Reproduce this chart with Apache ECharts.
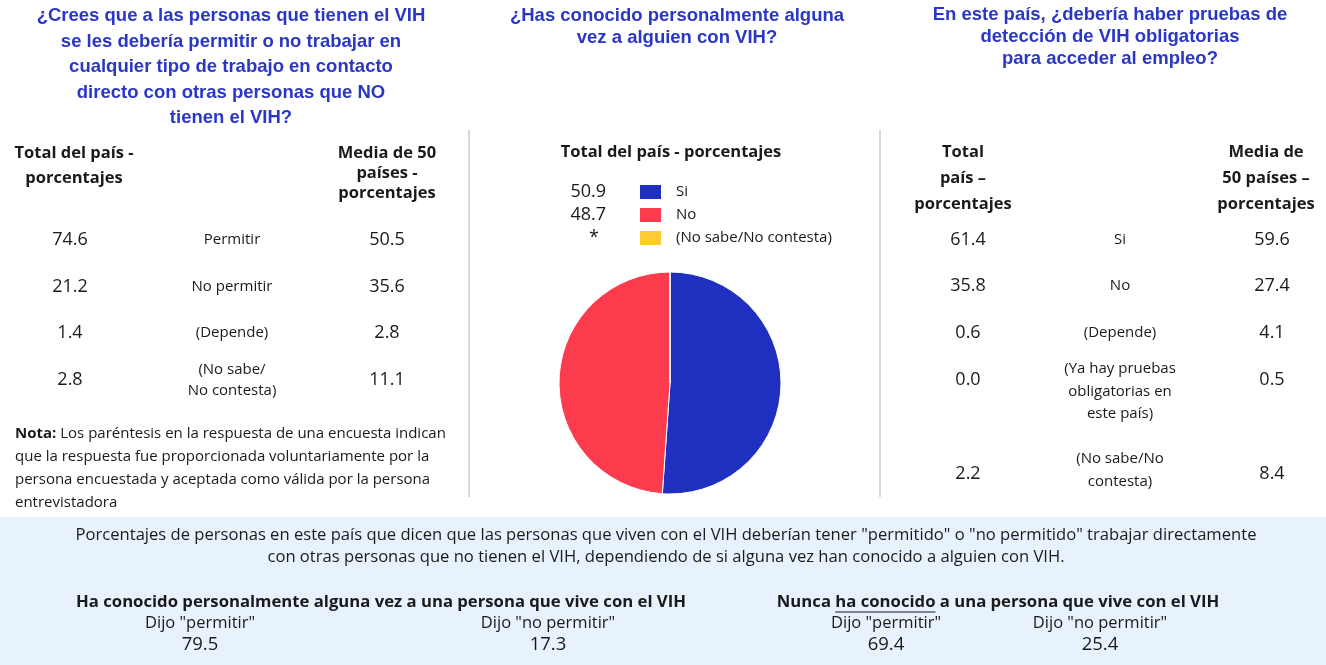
<!DOCTYPE html>
<html>
<head>
<meta charset="utf-8">
<script src="https://cdn.jsdelivr.net/npm/echarts@6/dist/echarts.min.js"></script>
<style>
  html, body { margin: 0; padding: 0; background: #fff; }
  #chart { width: 1326px; height: 665px; }
</style>
</head>
<body>
<div id="chart"></div>
<script>
// ---- Question 1: working in contact with people without HIV ----
const q1Title = ['¿Crees que a las personas que tienen el VIH', 'se les debería permitir o no trabajar en',
  'cualquier tipo de trabajo en contacto', 'directo con otras personas que NO', 'tienen el VIH?'];
const q1Answers = [['Permitir'], ['No permitir'], ['(Depende)'], ['(No sabe/', 'No contesta)']];
const q1Country = ['74.6', '21.2', '1.4', '2.8'];
const q1Mean50 = ['50.5', '35.6', '2.8', '11.1'];

// ---- Question 2: personally known someone with HIV (pie) ----
const q2Title = ['¿Has conocido personalmente alguna', 'vez a alguien con VIH?'];
const q2Categories = ['Si', 'No', '(No sabe/No contesta)'];
const q2Values = [50.9, 48.7, 0];
const q2Shown = ['50.9', '48.7', '*'];
const q2Colors = ['#1f2fbf', '#fc3c4c', '#ffcc33'];

// ---- Question 3: mandatory HIV testing for employment ----
const q3Title = ['En este país, ¿debería haber pruebas de', 'detección de VIH obligatorias', 'para acceder al empleo?'];
const q3Answers = [['Si'], ['No'], ['(Depende)'], ['(Ya hay pruebas', 'obligatorias en', 'este país)'], ['(No sabe/No', 'contesta)']];
const q3Country = ['61.4', '35.8', '0.6', '0.0', '2.2'];
const q3Mean50 = ['59.6', '27.4', '4.1', '0.5', '8.4'];

// ---- Bottom panel: allow / not allow by acquaintance ----
const knownGroups = ['Ha conocido personalmente alguna vez a una persona que vive con el VIH',
  'Nunca ha conocido a una persona que vive con el VIH'];
const saidLabels = ['Dijo "permitir"', 'Dijo "no permitir"'];
const knownValues = [['79.5', '17.3'], ['69.4', '25.4']];

const TITLE_FONT = 'bold 18.5px "Liberation Sans", Arial, sans-serif';
const BODY = '"Open Sans", "Noto Sans", sans-serif';
const HEAD_FONT = 'bold 16.5px ' + BODY;
const NUM_FONT = '18px ' + BODY;
const LABEL_FONT = '15px ' + BODY;
const TITLE_COLOR = '#2a37c4';
const INK = '#1a1a1a';

const g = [];
function txt(x, y, text, font, opts) {
  opts = opts || {};
  g.push({
    type: 'text', x: x, y: y, silent: true,
    style: {
      text: text, font: font, fill: opts.fill || INK,
      align: opts.align || 'center', verticalAlign: 'middle'
    }
  });
}
function lines(x, y0, step, arr, font, opts) {
  arr.forEach((t, i) => txt(x, y0 + i * step, t, font, opts));
}

// bottom panel background
g.push({ type: 'rect', silent: true, shape: { x: 0, y: 517, width: 1326, height: 148 }, style: { fill: '#e8f2fc' } });

// column dividers
[469, 880].forEach(x => g.push({ type: 'line', silent: true, shape: { x1: x, y1: 130, x2: x, y2: 497 }, style: { stroke: '#cccccc', lineWidth: 1.5 } }));

// ---- left column ----
lines(231, 16, 25.5, q1Title, TITLE_FONT, { fill: TITLE_COLOR });
lines(74, 153, 25, ['Total del país -', 'porcentajes'], HEAD_FONT);
lines(387, 153, 20, ['Media de 50', 'países -', 'porcentajes'], HEAD_FONT);
const q1RowY = [240, 287, 333, 380];
q1Answers.forEach((a, i) => {
  lines(232, q1RowY[i] - (a.length - 1) * 10.5, 21, a, LABEL_FONT);
  txt(70, q1RowY[i], q1Country[i], NUM_FONT);
  txt(387, q1RowY[i], q1Mean50[i], NUM_FONT);
});
g.push({
  type: 'text', x: 15, y: 434 - 11.5, silent: true,
  style: {
    text: '{b|Nota:} Los paréntesis en la respuesta de una encuesta indican\nque la respuesta fue proporcionada voluntariamente por la\npersona encuestada y aceptada como válida por la persona\nentrevistadora',
    font: '15px ' + BODY, fill: INK, lineHeight: 23, align: 'left', verticalAlign: 'top',
    rich: { b: { font: 'bold 15px ' + BODY, fill: INK, lineHeight: 23 } }
  }
});

// ---- middle column ----
lines(677, 16, 22, q2Title, TITLE_FONT, { fill: TITLE_COLOR });
txt(671, 152, 'Total del país - porcentajes', HEAD_FONT);
const legY = [192, 215, 238];
q2Categories.forEach((c, i) => {
  if (q2Shown[i] === '*') txt(594, legY[i], q2Shown[i], NUM_FONT);
  else txt(606, legY[i], q2Shown[i], NUM_FONT, { align: 'right' });
  g.push({ type: 'rect', silent: true, shape: { x: 640, y: legY[i] - 7, width: 21, height: 14 }, style: { fill: q2Colors[i] } });
  txt(676, legY[i], c, LABEL_FONT, { align: 'left' });
});

// ---- right column ----
lines(1110, 15, 22, q3Title, TITLE_FONT, { fill: TITLE_COLOR });
lines(963, 152, 26, ['Total', 'país –', 'porcentajes'], HEAD_FONT);
lines(1266, 152, 26, ['Media de', '50 países –', 'porcentajes'], HEAD_FONT);
const q3RowY = [240, 286, 333, 380, 474];
const q3LabelY = [240, 286, 333, 369, 459];
q3Answers.forEach((a, i) => {
  lines(1120, q3LabelY[i], a.length > 1 ? 22.5 : 0, a, LABEL_FONT);
  txt(968, q3RowY[i], q3Country[i], NUM_FONT);
  txt(1272, q3RowY[i], q3Mean50[i], NUM_FONT);
});

// ---- bottom panel ----
lines(666, 535, 22, ['Porcentajes de personas en este país que dicen que las personas que viven con el VIH deberían tener "permitido" o "no permitido" trabajar directamente',
  'con otras personas que no tienen el VIH, dependiendo de si alguna vez han conocido a alguien con VIH.'], '16.6px ' + BODY);
const groupX = [381, 998];
const saidX = [[200, 548], [886, 1100]];
const GROUP_FONT = 'bold 16.7px ' + BODY;
knownGroups.forEach((h, gi) => {
  txt(groupX[gi], 602, h, GROUP_FONT);
  saidLabels.forEach((s, si) => {
    txt(saidX[gi][si], 623, s, '16.5px ' + BODY);
    txt(saidX[gi][si], 645, knownValues[gi][si], '18.5px ' + BODY);
  });
});
// underline "ha conocido" in the second heading
(function () {
  const ctx = document.createElement('canvas').getContext('2d');
  ctx.font = GROUP_FONT;
  const full = ctx.measureText(knownGroups[1]).width;
  const pre = ctx.measureText('Nunca ').width;
  const word = ctx.measureText('ha conocido').width;
  const x0 = groupX[1] - full / 2 + pre;
  g.push({ type: 'line', silent: true, shape: { x1: x0, y1: 612, x2: x0 + word, y2: 612 }, style: { stroke: INK, lineWidth: 1.2 } });
})();

const chart = echarts.init(document.getElementById('chart'), null, { renderer: 'canvas' });
chart.setOption({
  backgroundColor: '#ffffff',
  animation: false,
  series: [{
    type: 'pie',
    center: [670, 383],
    radius: 111,
    startAngle: 90,
    clockwise: true,
    silent: true,
    label: { show: false },
    labelLine: { show: false },
    itemStyle: { borderColor: '#ffffff', borderWidth: 1 },
    data: q2Categories.map((c, i) => ({ name: c, value: q2Values[i], itemStyle: { color: q2Colors[i] } }))
  }],
  graphic: g
});
</script>
</body>
</html>
